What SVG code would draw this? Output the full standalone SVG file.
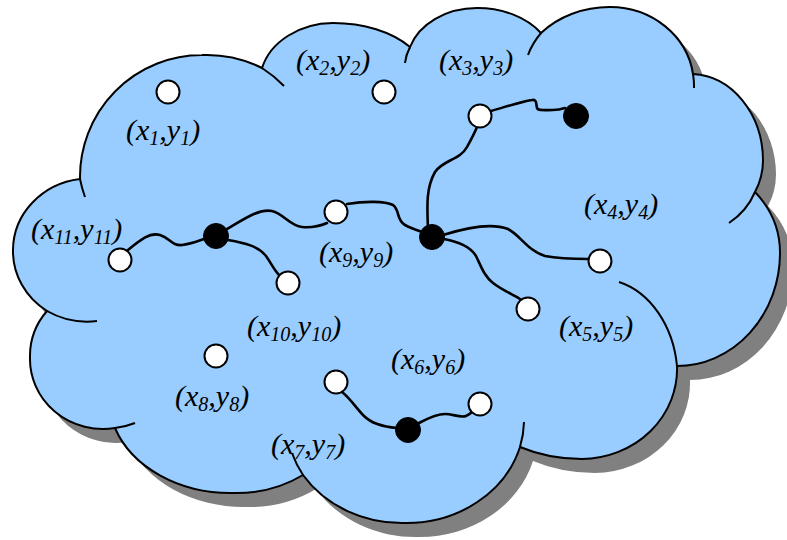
<svg xmlns="http://www.w3.org/2000/svg" xmlns:xlink="http://www.w3.org/1999/xlink" width="787" height="540" viewBox="0 0 787 540">
<style>
.cloudline{fill:none;stroke:#000;stroke-width:2}
.wire{fill:none;stroke:#000;stroke-width:2.6;stroke-linecap:round}
.wn{fill:#fff;stroke:#000;stroke-width:2}
.bn{fill:#000;stroke:#000;stroke-width:1}
.lbl{font-family:"Liberation Serif","Times New Roman",serif;font-style:italic;font-size:30px;fill:#000}
.sub{font-size:20px}
</style>
<defs>
<path id="outline" d="M80,179 A122 122 0 0 1 202,55 A122 122 0 0 1 262,68 A74 60 0 0 1 333,23 A96 60 0 0 1 410,47 A70 55 0 0 1 477,8 A76 55 0 0 1 541,33 A92 78 0 0 1 610,7 A84 78 0 0 1 693,74 A73 87 0 0 1 763,160 A73 70 0 0 1 755,192 A103 93 0 0 1 780,253 A103 113 0 0 1 677,366 A96 90 0 0 1 582,459 A124 90 0 0 1 520,447 A118 105 0 0 1 406,523 A118 105 0 0 1 303,475 A114 95 0 0 1 233,493 A122 95 0 0 1 115,428 A73 70 0 0 1 30,357 A73 70 0 0 1 47,311 A77 72 0 0 1 13,250 A77 72 0 0 1 80,179 Z"/>
</defs>
<g id="cloud">
<use xlink:href="#outline" href="#outline" transform="translate(13,14)" fill="#808080"/>
<use xlink:href="#outline" href="#outline" fill="#99CCFF" stroke="#000" stroke-width="2"/>
<path class="cloudline" d="M80,179 A122 122 0 0 0 85,197 M262,68 A122 122 0 0 1 284,86 M410,47 A70 55 0 0 0 405,63 M541,33 A92 78 0 0 0 528,55 M693,74 A84 78 0 0 1 694,88 M755,192 A73 70 0 0 1 729,223 M677,366 A78 99 0 0 0 619,282 M520,447 A118 105 0 0 0 524,422 M303,475 A118 105 0 0 1 292,453 M115,428 A73 70 0 0 0 135,423 M47,311 A77 72 0 0 0 97,321"/>
</g>
<g id="connectors">
<path class="wire" d="M128,250 C140,240 150,232 160,235 C170,238 172,246 182,245 C192,244 200,240 210,237"/>
<path class="wire" d="M222,232 C240,222 258,208 272,211 C284,214 290,226 302,227 C312,228 320,226 327,223"/>
<path class="wire" d="M347,204 C365,201 385,201 393,205 C400,210 396,220 405,225 C412,229 420,231 428,234"/>
<path class="wire" d="M428,230 C427,205 426,188 435,172 C443,160 460,160 467,147 C472,138 475,132 477,127"/>
<path class="wire" d="M491,111 C505,107 520,102 532,100 C537,99 536,104 537,108 C538,111 545,110 553,110 C558,110 562,109 565,108"/>
<path class="wire" d="M443,235 C462,229 490,222 508,229 C520,235 528,251 545,256 C560,259 575,259 589,259"/>
<path class="wire" d="M444,239 C458,242 470,246 476,256 C481,266 484,276 493,283 C502,290 512,294 520,299"/>
<path class="wire" d="M228,240 C245,243 258,246 266,256 C271,263 274,270 279,275"/>
<path class="wire" d="M342,392 C350,398 356,408 364,416 C372,424 385,427 397,428"/>
<path class="wire" d="M417,424 C425,420 435,414 445,414 C453,414 460,418 466,416 C469,415 471,413 473,411"/>
</g>
<g id="node1"><circle class="wn" cx="168" cy="92" r="11.5"/><text class="lbl" x="126" y="140">(x<tspan class="sub" dy="5">1</tspan><tspan dy="-5">,y</tspan><tspan class="sub" dy="5">1</tspan><tspan dy="-5">)</tspan></text></g>
<g id="node2"><circle class="wn" cx="384" cy="92" r="11.5"/><text class="lbl" x="296" y="70">(x<tspan class="sub" dy="5">2</tspan><tspan dy="-5">,y</tspan><tspan class="sub" dy="5">2</tspan><tspan dy="-5">)</tspan></text></g>
<g id="node3"><circle class="wn" cx="480" cy="116" r="11.5"/><text class="lbl" x="439" y="70">(x<tspan class="sub" dy="5">3</tspan><tspan dy="-5">,y</tspan><tspan class="sub" dy="5">3</tspan><tspan dy="-5">)</tspan></text></g>
<g id="node4"><circle class="wn" cx="600" cy="261" r="11.5"/><text class="lbl" x="584" y="214">(x<tspan class="sub" dy="5">4</tspan><tspan dy="-5">,y</tspan><tspan class="sub" dy="5">4</tspan><tspan dy="-5">)</tspan></text></g>
<g id="node5"><circle class="wn" cx="528" cy="309" r="11.5"/><text class="lbl" x="559" y="336">(x<tspan class="sub" dy="5">5</tspan><tspan dy="-5">,y</tspan><tspan class="sub" dy="5">5</tspan><tspan dy="-5">)</tspan></text></g>
<g id="node6"><circle class="wn" cx="480" cy="404" r="11.5"/><text class="lbl" x="391" y="369">(x<tspan class="sub" dy="5">6</tspan><tspan dy="-5">,y</tspan><tspan class="sub" dy="5">6</tspan><tspan dy="-5">)</tspan></text></g>
<g id="node7"><circle class="wn" cx="336" cy="382" r="11.5"/><text class="lbl" x="271" y="454">(x<tspan class="sub" dy="5">7</tspan><tspan dy="-5">,y</tspan><tspan class="sub" dy="5">7</tspan><tspan dy="-5">)</tspan></text></g>
<g id="node8"><circle class="wn" cx="216" cy="356" r="11.5"/><text class="lbl" x="175" y="406">(x<tspan class="sub" dy="5">8</tspan><tspan dy="-5">,y</tspan><tspan class="sub" dy="5">8</tspan><tspan dy="-5">)</tspan></text></g>
<g id="node9"><circle class="wn" cx="336" cy="212" r="11.5"/><text class="lbl" x="319" y="262">(x<tspan class="sub" dy="5">9</tspan><tspan dy="-5">,y</tspan><tspan class="sub" dy="5">9</tspan><tspan dy="-5">)</tspan></text></g>
<g id="node10"><circle class="wn" cx="288" cy="283" r="11.5"/><text class="lbl" x="247" y="336">(x<tspan class="sub" dy="5">10</tspan><tspan dy="-5">,y</tspan><tspan class="sub" dy="5">10</tspan><tspan dy="-5">)</tspan></text></g>
<g id="node11"><circle class="wn" cx="120" cy="260" r="11.5"/><text class="lbl" x="31" y="239">(x<tspan class="sub" dy="5">11</tspan><tspan dy="-5">,y</tspan><tspan class="sub" dy="5">11</tspan><tspan dy="-5">)</tspan></text></g>
<g id="hub1"><circle class="bn" cx="576" cy="116" r="12.5"/></g>
<g id="hub2"><circle class="bn" cx="216" cy="236" r="12.5"/></g>
<g id="hub3"><circle class="bn" cx="432" cy="237" r="12.5"/></g>
<g id="hub4"><circle class="bn" cx="408" cy="430" r="12.5"/></g>
</svg>
